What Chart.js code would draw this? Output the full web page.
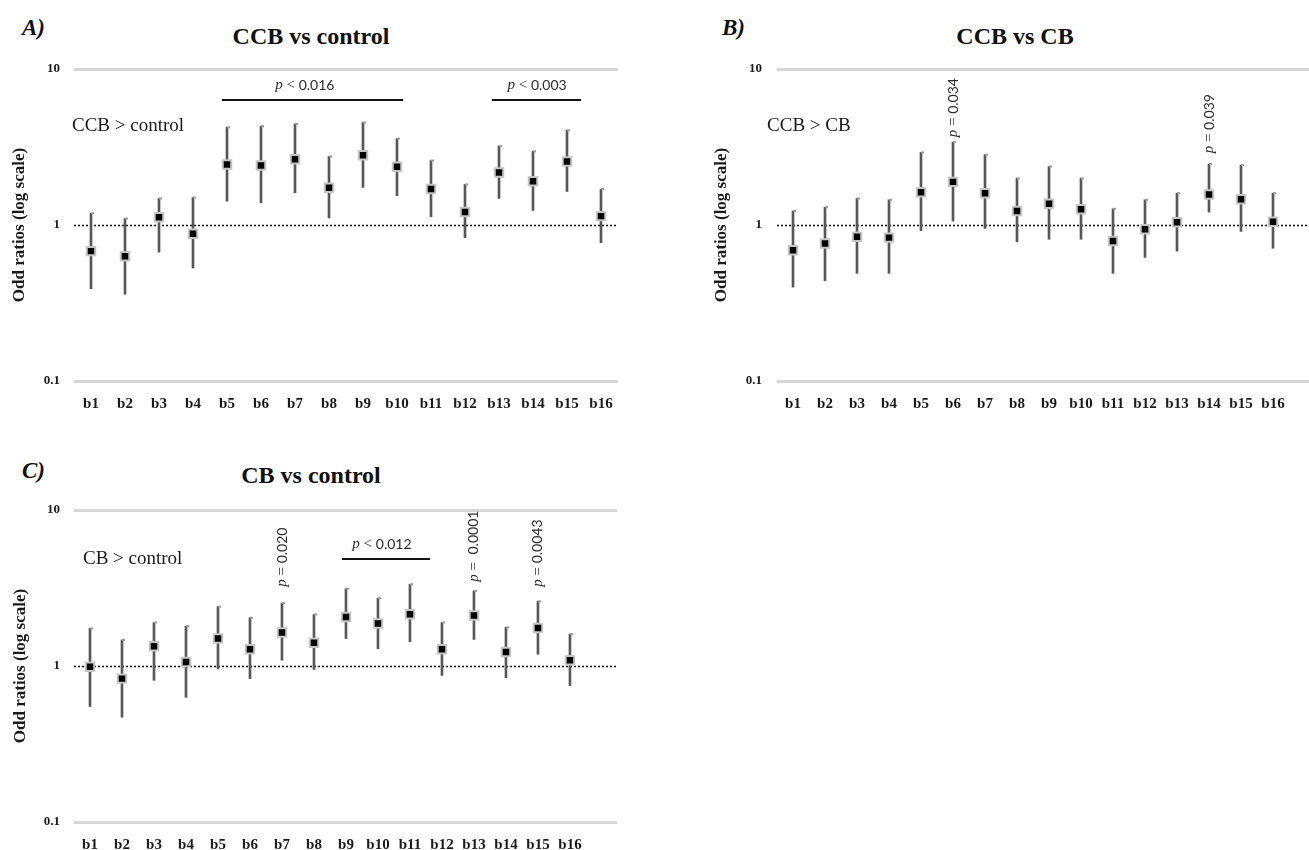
<!DOCTYPE html>
<html>
<head>
<meta charset="utf-8">
<title>Odd ratios by bin</title>
<script src="https://cdn.jsdelivr.net/npm/chart.js@4.4.1/dist/chart.umd.min.js"></script>
<style>
  body { margin: 0; background: #fff; width: 1309px; height: 850px; position: relative; overflow: hidden; }
  .box { position: absolute; }
  .tag { position: absolute; font: italic bold 23px "Liberation Serif", serif; color: #111; line-height: 1; }
  .title { position: absolute; font: bold 24px "Liberation Serif", serif; color: #111; text-align: center; width: 300px; line-height: 1; }
</style>
</head>
<body>

<div class="tag" style="left:22px; top:16px;">A)</div>
<div class="title" style="left:161px; top:24px;">CCB vs control</div>
<div class="tag" style="left:722px; top:16px;">B)</div>
<div class="title" style="left:865px; top:24px;">CCB vs CB</div>
<div class="tag" style="left:22px; top:459px;">C)</div>
<div class="title" style="left:161px; top:463px;">CB vs control</div>

<div class="box" style="left:0; top:0;"><canvas id="chartA" width="640" height="425"></canvas></div>
<div class="box" style="left:690px; top:0;"><canvas id="chartB" width="619" height="425"></canvas></div>
<div class="box" style="left:0; top:440px;"><canvas id="chartC" width="640" height="410"></canvas></div>

<script>
// bins on the x axis
const categories = ['b1', 'b2', 'b3', 'b4', 'b5', 'b6', 'b7', 'b8',
                    'b9', 'b10', 'b11', 'b12', 'b13', 'b14', 'b15', 'b16'];
const yTicks = [0.1, 1, 10];

// A) CCB vs control : odd ratio, lower and upper limit
const orA   = [0.68, 0.63, 1.12, 0.88, 2.44, 2.41, 2.64, 1.73, 2.80, 2.36, 1.70, 1.21, 2.17, 1.91, 2.55, 1.14];
const lowA  = [0.39, 0.36, 0.67, 0.53, 1.42, 1.39, 1.61, 1.11, 1.74, 1.54, 1.13, 0.83, 1.48, 1.24, 1.64, 0.77];
const highA = [1.19, 1.10, 1.48, 1.50, 4.23, 4.30, 4.45, 2.75, 4.54, 3.58, 2.59, 1.82, 3.21, 2.97, 4.05, 1.70];

// B) CCB vs CB
const orB   = [0.69, 0.76, 0.84, 0.83, 1.62, 1.89, 1.60, 1.23, 1.37, 1.26, 0.79, 0.94, 1.04, 1.57, 1.46, 1.05];
const lowB  = [0.40, 0.44, 0.49, 0.49, 0.92, 1.06, 0.95, 0.78, 0.81, 0.81, 0.49, 0.62, 0.68, 1.21, 0.91, 0.71];
const highB = [1.23, 1.30, 1.48, 1.45, 2.92, 3.40, 2.82, 1.99, 2.37, 1.99, 1.27, 1.45, 1.60, 2.46, 2.42, 1.60];

// C) CB vs control
const orC   = [0.99, 0.83, 1.34, 1.06, 1.50, 1.28, 1.64, 1.41, 2.06, 1.87, 2.15, 1.28, 2.11, 1.23, 1.75, 1.09];
const lowC  = [0.55, 0.47, 0.81, 0.63, 0.96, 0.83, 1.09, 0.95, 1.50, 1.29, 1.43, 0.87, 1.48, 0.84, 1.19, 0.75];
const highC = [1.74, 1.47, 1.90, 1.80, 2.40, 2.04, 2.53, 2.14, 3.13, 2.72, 3.34, 1.90, 3.03, 1.77, 2.60, 1.60];

const SERIF = '"Liberation Serif", serif';
const SANS = 'Lato, "Liberation Sans", sans-serif';

// write "p" in italic serif, the sign in serif and the number in sans
function drawP(ctx, sign, num, x, y, align) {
  const parts = [
    ['italic 15px ' + SERIF, 'p'],
    ['15px ' + SERIF, sign],
    ['14px ' + SANS, num]
  ];
  let total = 0;
  parts.forEach(p => { ctx.font = p[0]; total += ctx.measureText(p[1]).width; });
  let cx = align === 'center' ? x - total / 2 : x;
  ctx.textAlign = 'left';
  ctx.textBaseline = 'middle';
  ctx.fillStyle = '#2b2b2b';
  parts.forEach(p => {
    ctx.font = p[0];
    ctx.fillText(p[1], cx, y);
    cx += ctx.measureText(p[1]).width;
  });
}

// dotted line at 1, small caps on whiskers, labels and p values
function overlay(notes) {
  return {
    id: 'overlay',
    beforeDatasetsDraw(chart) {
      const { ctx, chartArea, scales: { y } } = chart;
      const py = Math.round(y.getPixelForValue(1)) + 0.5;
      ctx.save();
      ctx.strokeStyle = '#111';
      ctx.lineWidth = 1.5;
      ctx.setLineDash([2, 2]);
      ctx.beginPath();
      ctx.moveTo(chartArea.left, py);
      ctx.lineTo(chartArea.right, py);
      ctx.stroke();
      ctx.restore();
    },
    afterDatasetsDraw(chart) {
      const { ctx, scales: { x, y } } = chart;
      ctx.save();

      // tiny hook on top of every whisker
      ctx.fillStyle = '#9a9a9a';
      chart.getDatasetMeta(0).data.forEach(b => {
        ctx.fillRect(b.x, Math.min(b.y, b.base) - 1, 3, 2);
      });

      // group label
      ctx.fillStyle = '#1a1a1a';
      ctx.font = '19px ' + SERIF;
      ctx.textAlign = 'left';
      ctx.textBaseline = 'middle';
      ctx.fillText(notes.label.text, x.getPixelForValue(notes.label.x), y.getPixelForValue(notes.label.y));

      // brackets over several bins
      notes.brackets.forEach(br => {
        const py = Math.round(y.getPixelForValue(br.y));
        ctx.fillStyle = '#111';
        ctx.fillRect(x.getPixelForValue(br.from), py - 1, x.getPixelForValue(br.to) - x.getPixelForValue(br.from), 2);
        drawP(ctx, ' < ', br.text, x.getPixelForValue(br.textX), py - 15, 'center');
      });

      // vertical p values above single bins
      notes.vertical.forEach(v => {
        const i = categories.indexOf(v.cat);
        ctx.save();
        ctx.translate(x.getPixelForValue(i + 1), y.getPixelForValue(v.at));
        ctx.rotate(-Math.PI / 2);
        drawP(ctx, v.sign, v.text, 0, 0, 'left');
        ctx.restore();
      });
      ctx.restore();
    }
  };
}

function makePanel(id, or, low, high, opts, notes) {
  const bars = categories.map((c, i) => ({ x: i + 1, y: [low[i], high[i]] }));
  const points = categories.map((c, i) => ({ x: i + 1, y: or[i] }));

  new Chart(document.getElementById(id), {
    type: 'bar',
    data: {
      datasets: [
        {
          type: 'bar',
          data: bars,
          backgroundColor: '#575757',
          barThickness: 2,
          order: 2
        },
        {
          type: 'scatter',
          data: points,
          pointStyle: 'rect',
          pointRadius: 6,
          pointHoverRadius: 6,
          backgroundColor: '#000',
          borderColor: '#c6c6c6',
          borderWidth: 2,
          order: 1
        }
      ]
    },
    options: {
      responsive: false,
      animation: false,
      events: [],
      layout: {
        autoPadding: false,
        padding: { top: opts.top, right: opts.right, left: 0, bottom: 0 }
      },
      plugins: { legend: { display: false }, tooltip: { enabled: false } },
      scales: {
        x: {
          type: 'linear',
          min: 0.5,
          max: opts.xMax,
          offset: false,
          grid: { display: false },
          border: { display: false },
          afterBuildTicks: s => { s.ticks = categories.map((c, i) => ({ value: i + 1 })); },
          afterFit: s => {
            s.height = opts.xHeight;
            s.paddingLeft = 0;
            s.paddingRight = 0;
          },
          ticks: {
            autoSkip: false,
            maxRotation: 0,
            padding: 6,
            color: '#1a1a1a',
            font: { family: SERIF, size: 15, weight: 'bold' },
            callback: v => categories[v - 1] || ''
          }
        },
        y: {
          type: 'logarithmic',
          min: 0.1,
          max: 10,
          afterBuildTicks: s => { s.ticks = yTicks.map(v => ({ value: v })); },
          afterFit: s => {
            s.width = opts.yWidth;
            s.paddingTop = 0;
            s.paddingBottom = 0;
          },
          grid: {
            drawTicks: false,
            lineWidth: 3,
            color: c => (c.tick && c.tick.value === 1) ? 'rgba(0,0,0,0)' : '#d6d6d6'
          },
          border: { display: false },
          ticks: {
            padding: opts.yPad,
            color: '#1a1a1a',
            font: { family: SERIF, size: 13, weight: 'bold' },
            callback: v => String(v)
          },
          title: {
            display: true,
            text: 'Odd ratios (log scale)',
            color: '#1a1a1a',
            font: { family: SERIF, size: 17, weight: 'bold' },
            padding: { top: opts.titlePad, bottom: 0 }
          }
        }
      }
    },
    plugins: [overlay(notes)]
  });
}

makePanel('chartA', orA, lowA, highA,
  { top: 69, right: 22, xMax: 16.5, xHeight: 44, yWidth: 74, yPad: 14, titlePad: 9 },
  {
    label: { text: 'CCB > control', x: 0.44, y: 4.29 },
    brackets: [
      { from: 4.85, to: 10.18, y: 6.3, textX: 7.29, text: '0.016' },
      { from: 12.79, to: 15.41, y: 6.3, textX: 14.12, text: '0.003' }
    ],
    vertical: []
  });

makePanel('chartB', orB, lowB, highB,
  { top: 69, right: 0, xMax: 17.125, xHeight: 44, yWidth: 87, yPad: 15, titlePad: 21 },
  {
    label: { text: 'CCB > CB', x: 0.19, y: 4.29 },
    brackets: [],
    vertical: [
      { cat: 'b6', at: 3.65, sign: ' = ', text: '0.034' },
      { cat: 'b14', at: 2.88, sign: ' = ', text: '0.039' }
    ]
  });

makePanel('chartC', orC, lowC, highC,
  { top: 70, right: 23, xMax: 17.47, xHeight: 28, yWidth: 74, yPad: 14, titlePad: 10 },
  {
    label: { text: 'CB > control', x: 0.78, y: 4.87 },
    brackets: [
      { from: 8.875, to: 11.625, y: 4.87, textX: 10.125, text: '0.012' }
    ],
    vertical: [
      { cat: 'b7', at: 3.22, sign: ' = ', text: '0.020' },
      { cat: 'b13', at: 3.47, sign: ' =  ', text: '0.0001' },
      { cat: 'b15', at: 3.22, sign: ' = ', text: '0.0043' }
    ]
  });
</script>
</body>
</html>
